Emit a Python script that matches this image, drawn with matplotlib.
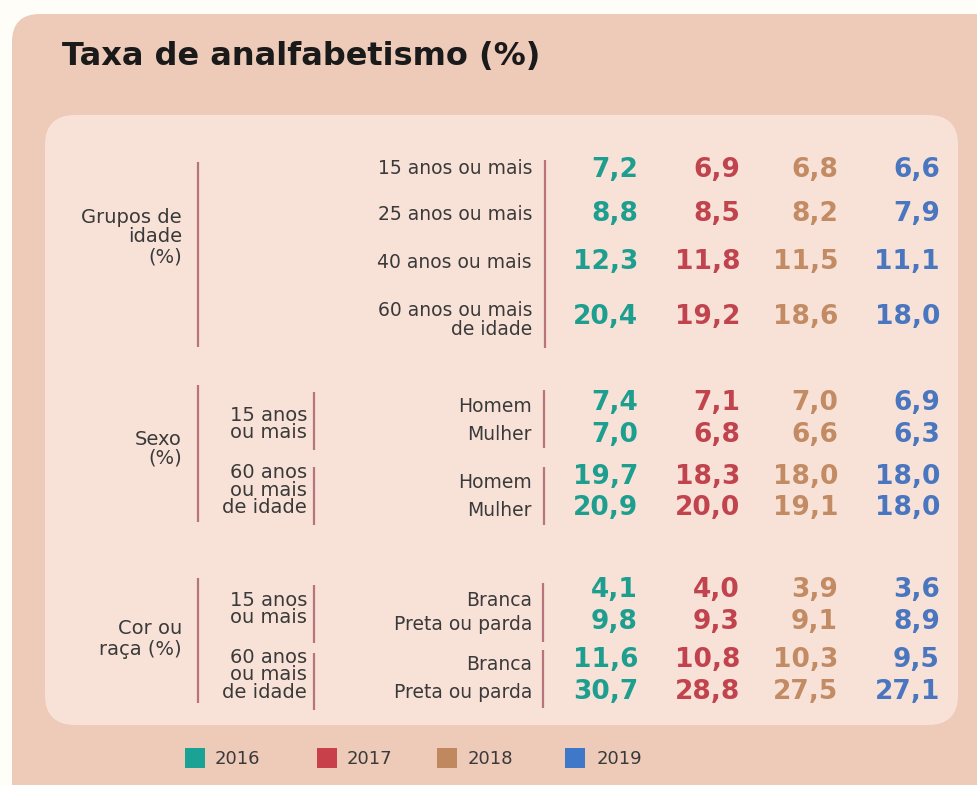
import matplotlib.pyplot as plt
from matplotlib.patches import FancyBboxPatch, Rectangle

# data
years = ['2016', '2017', '2018', '2019']
year_colors = ['#1e9e8e', '#c0434d', '#c28b63', '#4a76bf']
legend_colors = ['#1aa394', '#c8404a', '#c0885e', '#3f78c8']

age_rows = ['15 anos ou mais', '25 anos ou mais', '40 anos ou mais', '60 anos ou mais\nde idade']
age_vals = [[7.2, 6.9, 6.8, 6.6],
            [8.8, 8.5, 8.2, 7.9],
            [12.3, 11.8, 11.5, 11.1],
            [20.4, 19.2, 18.6, 18.0]]

sex_sub = ['15 anos\nou mais', '60 anos\nou mais\nde idade']
sex_rows = ['Homem', 'Mulher', 'Homem', 'Mulher']
sex_vals = [[7.4, 7.1, 7.0, 6.9],
            [7.0, 6.8, 6.6, 6.3],
            [19.7, 18.3, 18.0, 18.0],
            [20.9, 20.0, 19.1, 18.0]]

race_sub = ['15 anos\nou mais', '60 anos\nou mais\nde idade']
race_rows = ['Branca', 'Preta ou parda', 'Branca', 'Preta ou parda']
race_vals = [[4.1, 4.0, 3.9, 3.6],
             [9.8, 9.3, 9.1, 8.9],
             [11.6, 10.8, 10.3, 9.5],
             [30.7, 28.8, 27.5, 27.1]]

group_labels = ['Grupos de\nidade\n(%)', 'Sexo\n(%)', 'Cor ou\nraça (%)']

# layout (pixel coords)
W, H = 977, 785
col_x = [638, 740, 838, 940]
label_x = 532
txt = '#3a3a3a'
line_c = '#b8747c'
FONT = 'DejaVu Sans'

fig = plt.figure(figsize=(W / 100, H / 100), dpi=100)
fig.patch.set_facecolor('#fffdf8')
ax = fig.add_axes([0, 0, 1, 1])
ax.set_xlim(0, W)
ax.set_ylim(H, 0)
ax.axis('off')

ax.add_patch(FancyBboxPatch((12, 14), 1000, 800, boxstyle='round,pad=0,rounding_size=28',
                            fc='#eecab9', ec='none'))
ax.add_patch(FancyBboxPatch((45, 115), 913, 610, boxstyle='round,pad=0,rounding_size=30',
                            fc='#f8e2d8', ec='none'))

ax.text(62, 56, 'Taxa de analfabetismo (%)', fontsize=23, fontweight='bold',
        color='#1a1a1a', va='center', ha='left', family=FONT)


def vline(x, y0, y1):
    ax.plot([x, x], [y0, y1], color=line_c, lw=1.6, solid_capstyle='butt')


def fmt(v):
    return f'{v:.1f}'.replace('.', ',')


def values(rows_y, vals):
    for y, row in zip(rows_y, vals):
        for x, v, c in zip(col_x, row, year_colors):
            ax.text(x, y, fmt(v), ha='right', va='center', fontsize=19,
                    fontweight='bold', color=c, family=FONT)


def labels(rows_y, rows, **kw):
    for y, r in zip(rows_y, rows):
        ax.text(label_x, y, r, ha='right', va='center', fontsize=13.5, color=txt,
                family=FONT, linespacing=1.0, **kw)


def side(x, y, s, ls):
    ax.text(x, y, s, ha='right', va='center', fontsize=14, color=txt,
            family=FONT, linespacing=ls)


# grupos de idade
labels([169, 214, 262, 320], age_rows)
values([170, 214, 262, 317], age_vals)
side(182, 237, group_labels[0], 1.05)
vline(198, 162, 347)
vline(545, 160, 348)

# sexo
labels([407, 434, 483, 510], sex_rows)
values([403, 435, 477, 508], sex_vals)
side(182, 449, group_labels[1], 1.0)
vline(198, 385, 522)
for s, y, (a, b) in zip(sex_sub, [424, 490], [(392, 450), (467, 525)]):
    side(307, y, s, 0.88)
    vline(314, a, b)
vline(544, 390, 448)
vline(544, 467, 525)

# cor ou raca
labels([600, 625, 665, 692], race_rows)
values([590, 622, 660, 692], race_vals)
side(182, 639, group_labels[2], 1.1)
vline(198, 578, 703)
for s, y, (a, b) in zip(race_sub, [609, 675], [(585, 643), (653, 710)]):
    side(307, y, s, 0.88)
    vline(314, a, b)
vline(543, 583, 642)
vline(543, 650, 708)

# legend
for sx, tx, yr, c in zip([185, 317, 437, 565], [215, 347, 468, 597], years, legend_colors):
    ax.add_patch(Rectangle((sx, 748), 20, 20, fc=c, ec='none'))
    ax.text(tx, 759, yr, ha='left', va='center', fontsize=13, color=txt, family=FONT)

fig.savefig('out.png', dpi=100, facecolor=fig.get_facecolor())
